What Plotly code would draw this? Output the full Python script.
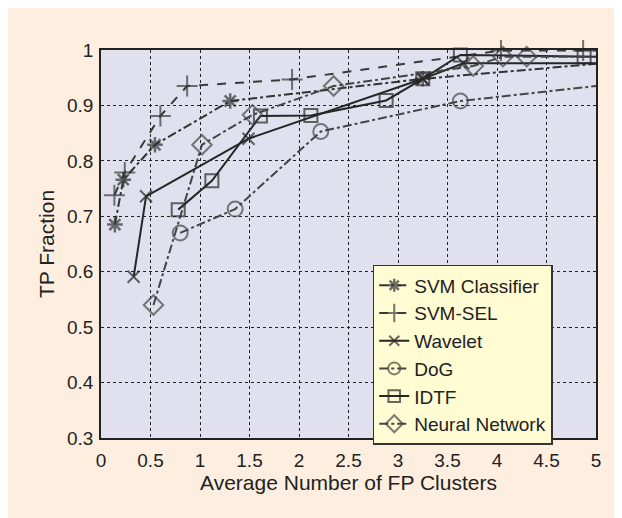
import plotly.graph_objects as go

# ---------------- data ----------------
svm_cls_x = [0.14, 0.225, 0.545, 1.305, 3.25, 5.0]
svm_cls_y = [0.685, 0.766, 0.829, 0.908, 0.948, 0.975]

svm_sel_x = [0.135, 0.24, 0.6, 0.87, 1.93, 4.04, 4.87, 5.0]
svm_sel_y = [0.738, 0.779, 0.881, 0.935, 0.947, 0.999, 0.999, 0.999]

wavelet_x = [0.33, 0.455, 1.49, 3.25, 3.66, 5.0]
wavelet_y = [0.591, 0.736, 0.840, 0.948, 0.976, 0.976]

dog_x = [0.80, 1.355, 2.22, 3.63, 5.0]
dog_y = [0.670, 0.713, 0.853, 0.908, 0.935]

idtf_x = [0.78, 1.12, 1.61, 2.12, 2.88, 3.25, 3.63, 4.88, 5.0]
idtf_y = [0.712, 0.764, 0.881, 0.882, 0.909, 0.948, 0.991, 0.988, 0.988]

nn_x = [0.53, 1.02, 1.53, 2.35, 3.76, 4.06, 4.30, 5.0]
nn_y = [0.540, 0.829, 0.883, 0.935, 0.971, 0.988, 0.988, 0.988]

series_names = ["SVM Classifier", "SVM-SEL", "Wavelet", "DoG", "IDTF", "Neural Network"]

x_tickvals = [0, 0.5, 1, 1.5, 2, 2.5, 3, 3.5, 4, 4.5, 5]
x_ticktext = ["0", "0.5", "1", "1.5", "2", "2.5", "3", "3.5", "4", "4.5", "5"]
y_tickvals = [0.3, 0.4, 0.5, 0.6, 0.7, 0.8, 0.9, 1.0]
y_ticktext = ["0.3", "0.4", "0.5", "0.6", "0.7", "0.8", "0.9", "1"]

# ---------------- style ----------------
styles = [
    dict(dash="dashdot", color="#333333", width=2, symbol="asterisk-open", size=13, lw=2.5),
    dict(dash="dash", color="#3a3a3a", width=2, symbol="cross-thin-open", size=15, lw=2),
    dict(dash="solid", color="#262626", width=2, symbol="x-thin-open", size=12, lw=2),
    dict(dash="dashdot", color="#444444", width=2, symbol="circle-open", size=15, lw=2),
    dict(dash="solid", color="#262626", width=2, symbol="square-open", size=13, lw=2),
    dict(dash="dashdot", color="#444444", width=2, symbol="diamond-open", size=15, lw=2),
]
data = [(svm_cls_x, svm_cls_y), (svm_sel_x, svm_sel_y), (wavelet_x, wavelet_y),
        (dog_x, dog_y), (idtf_x, idtf_y), (nn_x, nn_y)]

fig = go.Figure()
for name, (xs, ys), st in zip(series_names, data, styles):
    sizes = [0 if x >= 5 else st["size"] for x in xs]
    fig.add_trace(go.Scatter(
        x=xs, y=ys, name=name, mode="lines+markers", cliponaxis=False,
        line=dict(color=st["color"], width=st["width"], dash=st["dash"]),
        marker=dict(symbol=st["symbol"], size=sizes, color=st["color"],
                    line=dict(color=st["color"], width=st["lw"])),
    ))

grid = dict(showgrid=True, gridcolor="#222222", griddash="3px,3px", gridwidth=1,
            zeroline=False, showline=True, linecolor="#222222", linewidth=1.5,
            mirror=True, ticks="", tickfont=dict(size=19, color="#222222"))

fig.update_layout(
    width=622, height=518,
    margin=dict(l=93, r=34, t=42, b=88),
    paper_bgcolor="#fdeee0",
    plot_bgcolor="#e1e0ee",
    font=dict(family="Liberation Sans, Arial, sans-serif", color="#222222"),
    showlegend=True,
    legend=dict(x=0.549, y=0.446, xanchor="left", yanchor="top",
                bgcolor="#fffbd2", bordercolor="#333333", borderwidth=1.5,
                font=dict(size=19, color="#222222"), tracegroupgap=0),
    xaxis=dict(range=[0, 5], tickvals=x_tickvals, ticktext=x_ticktext,
               title=dict(text="Average Number of FP Clusters", font=dict(size=21), standoff=6),
               ticklabelstandoff=4, **grid),
    yaxis=dict(range=[0.3, 1.0], tickvals=y_tickvals, ticktext=y_ticktext,
               title=dict(text="TP Fraction", font=dict(size=21), standoff=7),
               ticklabelstandoff=2, **grid),
)

fig.write_html("out.html")
